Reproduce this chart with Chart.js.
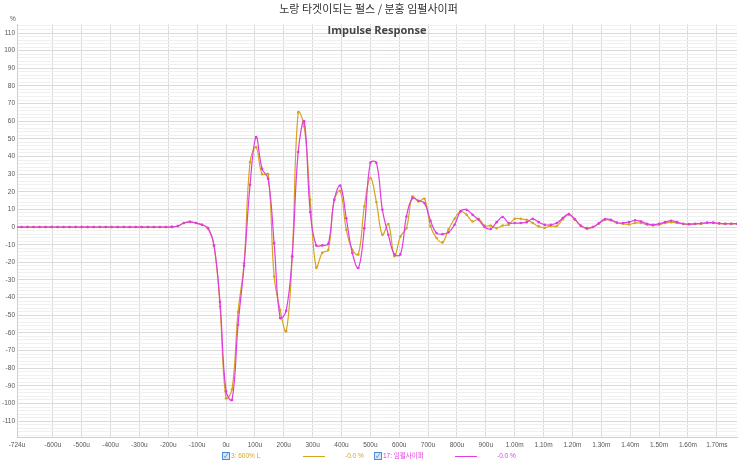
<!DOCTYPE html>
<html>
<head>
<meta charset="utf-8">
<script src="https://cdn.jsdelivr.net/npm/chart.js"></script>
<style>
  body { margin: 0; background: #fff; }
  #wrap { position: relative; width: 743px; height: 461px; }
  #legend { position: absolute; left: 0; top: 451px; width: 743px; height: 10px;
            font: 6.5px 'Liberation Sans', 'Noto Sans CJK KR', sans-serif; line-height: 8px; }
  #legend span { position: absolute; top: 1px; white-space: nowrap; line-height: 8px; }
  #legend .box { width: 6px; height: 6px; border: 1px solid #4a8ad8; background: #d8e8fb;
                 top: 1px; font-size: 6px; line-height: 6px; text-align: center; color: #2a64b8; }
  #legend .line { height: 0; border-top: 1.5px solid; top: 5px; }
</style>
</head>
<body>
<div id="wrap">
  <canvas id="chart"></canvas>
  <div id="legend"></div>
</div>
<script>
// 48 kHz samples, first sample index is -35
const sampleStart = -35;
const samplePeriod = 1e6 / 48000; // us

// 분홍 (임펄사이퍼), values in %
const pinkValues = [
  0, 0, 0, 0, 0, 0, 0, 0, 0, 0, 0, 0, 0, 0, 0, 0, 0, 0, 0, 0, 0, 0, 0, 0, 0, 0,
  0.1, 0.6, 2.3, 3.0, 2.3, 1.3, -0.6, -10.4, -42.4,
  -93, -98, -55.4, -21.9, 24, 51, 33, 27.4, -9.1, -51.6,
  -47.5, -16.6, 42.5, 60, 8.5, -10.4, -10.4, -9.5, 15.5, 23.5,
  5, -14.7, -23.2, -0.6, 36.5, 36.5, 9.8, -4.4, -15.5, -15.5,
  6, 16.4, 14.9, 13.6, 3.6, -3.4, -4, -3, 1.3, 8.9,
  9.8, 7, 4.1, 0, -1.1, 2.8, 5.7, 2.3, 2.3, 2.3,
  2.8, 4.7, 2.8, 1.3, 1.3, 2.3, 5.1, 7.4, 4.5, 0.7,
  -0.6, 0, 2.3, 4.5, 4.1, 2.6, 2.3, 2.8, 3.8, 3.2,
  1.9, 1.3, 1.9, 2.8, 3.6, 2.8, 1.9, 1.7, 1.9, 2.1,
  2.5, 2.5, 2.1, 1.9, 1.9, 1.9
];

// 노랑 (타겟 펄스), values in %
const goldValues = [
  0, 0, 0, 0, 0, 0, 0, 0, 0, 0, 0, 0, 0, 0, 0, 0, 0, 0, 0, 0, 0, 0, 0, 0, 0, 0,
  0.1, 0.6, 2.3, 3.0, 2.3, 1.3, -0.6, -10.4, -45,
  -97, -92, -48.2, -20.5, 36.8, 45.3, 30, 30, -28, -47,
  -59, -17, 65, 57, 15.5, -23, -14.6, -13, 15.5, 20.5,
  -1.5, -12.9, -15.5, 11.7, 27.8, 14.2, -4.4, 1.7, -16.5, -5.3,
  -0.6, 17.3, 14.5, 16, 0.4, -6.2, -8.7, -1.2, 4.7, 8.9,
  7, 3.2, 4.7, 0.8, 0.8, -0.6, 0.9, 1.3, 4.7, 4.7,
  4.1, 2.3, 0.4, -0.4, 0.7, 0.6, 4.5, 7, 4.1, 0.7,
  -1, 0, 1.9, 4.1, 3.8, 2.3, 1.9, 1.5, 2.3, 2.3,
  1.3, 0.9, 1.3, 2.3, 2.8, 2.3, 1.7, 1.5, 1.7, 1.9,
  2.3, 2.3, 2, 1.8, 1.8, 1.8
];

const xTickValues = [-724, -600, -500, -400, -300, -200, -100, 0, 100, 200, 300, 400, 500,
  600, 700, 800, 900, 1000, 1100, 1200, 1300, 1400, 1500, 1600, 1700];
const xTickLabels = ['-724u', '-600u', '-500u', '-400u', '-300u', '-200u', '-100u', '0u', '100u',
  '200u', '300u', '400u', '500u', '600u', '700u', '800u', '900u', '1.00m', '1.10m', '1.20m',
  '1.30m', '1.40m', '1.50m', '1.60m', '1.70ms'];
const yMinorStep = 2;

const goldColor = '#d6a51e';
const pinkColor = '#e03ce0';

function toPoints(values) {
  return values.map((v, i) => ({ x: (sampleStart + i) * samplePeriod, y: v }));
}

// 추가 텍스트 (차트 제목, 단위)
const extraText = {
  id: 'extraText',
  afterDraw(chart) {
    const ctx = chart.ctx;
    const area = chart.chartArea;
    ctx.save();
    ctx.fillStyle = '#444';
    ctx.textAlign = 'center';
    ctx.textBaseline = 'middle';
    ctx.font = "bold 11px 'Open Sans', sans-serif";
    ctx.fillText('Impulse Response', (area.left + area.right) / 2, 31);
    ctx.font = "6.5px 'Liberation Sans', sans-serif";
    ctx.fillStyle = '#555';
    ctx.fillText('%', 13, 19);
    ctx.restore();
  }
};

Chart.defaults.font.family = "'Liberation Sans', 'Noto Sans CJK KR', sans-serif";

const yTicks = [];
for (let v = -118; v <= 114; v += yMinorStep) yTicks.push(v);

new Chart(document.getElementById('chart'), {
  type: 'line',
  data: {
    datasets: [
      {
        label: '3: 600% L',
        data: toPoints(goldValues),
        borderColor: goldColor,
        backgroundColor: goldColor,
        borderWidth: 1.2,
        pointRadius: 1.3,
        pointBorderWidth: 0,
        tension: 0.4,
        order: 2
      },
      {
        label: '17: 임펄사이퍼',
        data: toPoints(pinkValues),
        borderColor: pinkColor,
        backgroundColor: pinkColor,
        borderWidth: 1.2,
        pointRadius: 1.3,
        pointBorderWidth: 0,
        tension: 0.4,
        order: 1
      }
    ]
  },
  options: {
    responsive: true,
    maintainAspectRatio: false,
    animation: false,
    layout: { padding: { right: 6, bottom: 12 } },
    plugins: {
      legend: { display: false },
      tooltip: { enabled: false },
      title: {
        display: true,
        text: '노랑 타겟이되는 펄스 / 분홍 임펄사이퍼',
        color: '#333',
        font: { size: 11, weight: 'normal', family: "'Noto Sans CJK KR', sans-serif" },
        padding: { top: 2, bottom: 9 }
      }
    },
    scales: {
      x: {
        type: 'linear',
        min: -724,
        max: 1770,
        afterBuildTicks: scale => { scale.ticks = xTickValues.map(v => ({ value: v })); },
        afterFit: scale => { scale.height = 12; },
        ticks: {
          autoSkip: false,
          maxRotation: 0,
          padding: 4,
          color: '#555',
          font: { size: 6.5 },
          callback: (value, index) => xTickLabels[index]
        },
        grid: { color: '#dadada', drawTicks: false },
        border: { color: '#cfcfcf' }
      },
      y: {
        min: -119,
        max: 115,
        afterBuildTicks: scale => { scale.ticks = yTicks.map(v => ({ value: v })); },
        afterFit: scale => { scale.width = 17; },
        ticks: {
          autoSkip: false,
          padding: 2,
          color: '#555',
          font: { size: 6.5 },
          callback: value => (value % 10 === 0 ? String(value) : '')
        },
        grid: {
          drawTicks: false,
          color: ctx => (ctx.tick && ctx.tick.value % 10 === 0 ? '#dadada' : '#f0f0f0')
        },
        border: { color: '#cfcfcf' }
      }
    }
  },
  plugins: [extraText]
});

// 범례 (REW 스타일)
const legend = document.getElementById('legend');
legend.innerHTML = `
  <span class="box" style="left:222px">&#10003;</span>
  <span style="left:231px;color:${goldColor}">3: 600% L</span>
  <span class="line" style="left:303px;width:22px;border-color:${goldColor}"></span>
  <span style="left:345px;color:${goldColor}">-0.0 %</span>
  <span class="box" style="left:374px">&#10003;</span>
  <span style="left:383px;color:${pinkColor}">17: 임펄사이퍼</span>
  <span class="line" style="left:455px;width:22px;border-color:${pinkColor}"></span>
  <span style="left:497px;color:${pinkColor}">-0.0 %</span>
`;
</script>
</body>
</html>
